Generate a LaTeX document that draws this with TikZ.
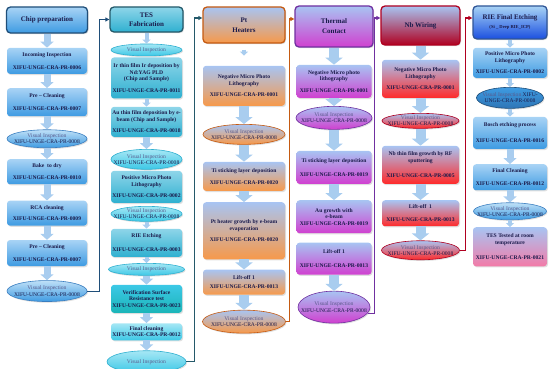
\documentclass[tikz,border=0pt]{standalone}
\usepackage{fontspec}
\setmainfont{Liberation Serif}
\usepackage{tikz}
\usetikzlibrary{arrows.meta, positioning, shapes.geometric, shadows}
\definecolor{XFnavy}{HTML}{1B1B4B}
\definecolor{XFslate}{HTML}{5A5A8C}
\definecolor{XFarrow}{HTML}{A9CDEF}
\definecolor{XFskyL}{HTML}{BFE0F7}
\definecolor{XFsky}{HTML}{A8D3F5}
\definecolor{XFblue}{HTML}{3E9BE2}
\definecolor{XFblueD}{HTML}{3A7EC0}
\definecolor{XFnavyD}{HTML}{1F4E79}
\definecolor{XFtealL}{HTML}{8ED5E9}
\definecolor{XFteal}{HTML}{2FB0D0}
\definecolor{XFtealD}{HTML}{24596A}
\definecolor{XFcyanL}{HTML}{A6E7F5}
\definecolor{XFcyan}{HTML}{3CC8E6}
\definecolor{XFturq}{HTML}{1BB5B8}
\definecolor{XFpale}{HTML}{A8C4F2}
\definecolor{XForange}{HTML}{F7994A}
\definecolor{XForangeD}{HTML}{C55A11}
\definecolor{XFmagenta}{HTML}{D040D0}
\definecolor{XFpurple}{HTML}{7030A0}
\definecolor{XFred}{HTML}{FF2A2A}
\definecolor{XFredD}{HTML}{B00020}
\definecolor{XFroyal}{HTML}{1A4FE0}
\definecolor{XFroyalD}{HTML}{2F5597}
\definecolor{XFmid}{HTML}{2E75B6}
\definecolor{XFpink}{HTML}{F27BA8}
\newcommand{\vinsp}{\textcolor{XFslate}{Visual Inspection}}
\tikzset{
  hdbox/.style={
    rectangle, rounded corners=4pt, line width=1.3pt, align=center,
    inner sep=1pt, text=XFnavy, font=\fontsize{7}{9}\selectfont\bfseries,
    drop shadow={opacity=0.3, shadow xshift=1pt, shadow yshift=-1.2pt}},
  stbox/.style={
    rectangle, rounded corners=3pt, align=center, inner sep=1pt,
    text=XFnavy, font=\fontsize{5.6}{6.6}\selectfont\bfseries,
    drop shadow={opacity=0.25, shadow xshift=1pt, shadow yshift=-1.2pt}},
  viell/.style={
    ellipse, align=center, inner xsep=-12pt, inner ysep=-2pt, line width=0.6pt,
    text=XFnavy, font=\fontsize{5.6}{6.3}\selectfont,
    drop shadow={opacity=0.25, shadow xshift=1pt, shadow yshift=-1.2pt}},
  chipbox/.style={stbox, minimum width=80pt, top color=XFsky, bottom color=XFblue},
  chipell/.style={viell, minimum width=80pt, draw=XFblueD, top color=XFskyL, bottom color=XFblue},
  tesbox/.style={stbox, minimum width=71pt, top color=XFtealL, bottom color=XFteal},
  tesell/.style={viell, minimum width=71pt, draw=XFteal, top color=XFcyanL, bottom color=XFcyan},
  ptbox/.style={stbox, minimum width=82pt, top color=XFpale, bottom color=XForange},
  ptell/.style={viell, minimum width=82pt, draw=XForangeD, top color=XFpale, bottom color=XForange},
  thbox/.style={stbox, minimum width=75pt, top color=XFpale, bottom color=XFmagenta},
  thell/.style={viell, minimum width=76pt, draw=XFpurple, top color=XFpale, bottom color=XFmagenta},
  nbbox/.style={stbox, minimum width=77pt, top color=XFpale, bottom color=XFred},
  nbell/.style={viell, minimum width=77pt, draw=XFredD, top color=XFpale, bottom color=XFred},
  riebox/.style={stbox, minimum width=74pt, top color=XFsky, bottom color=XFblue},
  blkarr/.style={-{Triangle[width=13pt,length=6pt]}, line width=7pt, draw=XFarrow},
  wdarr/.style={-{Triangle[width=17pt,length=7pt]}, line width=10pt, draw=XFarrow},
  smarr/.style={-{Triangle[width=8pt,length=4pt]}, line width=4pt, draw=XFarrow},
  backln/.style={-{Triangle[length=4pt,width=4pt]}, line width=1.1pt},
}
\begin{document}
\begin{tikzpicture}[x=1pt, y=-1pt, node distance=12pt]
  \useasboundingbox (0,0) rectangle (550,369);
  % Chip preparation
  \node[hdbox, draw=XFnavyD, top color=XFsky, bottom color=XFblue, minimum width=81pt, minimum height=26pt] (h1) at (47,20) {Chip preparation};
  \node[chipbox, below=14pt of h1, minimum height=26pt] (c1) {Incoming Inspection\\[6pt]XIFU-UNGE-CRA-PR-0006};
  \node[chipbox, below=14pt of c1, minimum height=28pt] (c2) {Pre – Cleaning\\[7pt]XIFU-UNGE-CRA-PR-0007};
  \node[chipell, below=13pt of c2, minimum height=18pt] (c3) {\vinsp\\XIFU-UNGE-CRA-PR-0008};
  \node[chipbox, below=11pt of c3, minimum height=25pt] (c4) {Bake \ to dry\\[5pt]XIFU-UNGE-CRA-PR-0010};
  \node[chipbox, below=16pt of c4, minimum height=25pt] (c5) {RCA cleaning\\[5pt]XIFU-UNGE-CRA-PR-0009};
  \node[chipbox, below=14pt of c5, minimum height=26pt] (c6) {Pre – Cleaning\\[7pt]XIFU-UNGE-CRA-PR-0007};
  \node[chipell, below=14pt of c6, minimum height=21pt] (c7) {\vinsp\\XIFU-UNGE-CRA-PR-0008};
  \draw[blkarr](h1)--(c1);\draw[blkarr](c1)--(c2);\draw[blkarr](c2)--(c3);\draw[blkarr](c3)--(c4);
  \draw[blkarr](c4)--(c5);\draw[blkarr](c5)--(c6);\draw[blkarr](c6)--(c7);
  % TES fabrication
  \node[hdbox, draw=XFtealD, top color=XFtealL, bottom color=XFteal, minimum width=73pt, minimum height=25pt] (h2) at (146.5,19.5) {TES\\Fabrication};
  \node[tesell, below=11pt of h2, minimum height=12pt] (t1) {\vinsp};
  \node[tesbox, below=1pt of t1, minimum height=41pt] (t2) {Ir thin film Ir deposition by\\Nd:YAG PLD\\(Chip and Sample)\\[5pt]XIFU-UNGE-CRA-PR-0011};
  \node[tesbox, below=8pt of t2, minimum height=30pt] (t3) {Au thin film deposition by e-\\beam (Chip and Sample)\\[5pt]XIFU-UNGE-CRA-PR-0018};
  \node[tesell, below=12pt of t3, minimum height=20pt] (t4) {\vinsp\\XIFU-UNGE-CRA-PR-0008};
  \node[tesbox, below=1pt of t4, minimum height=32pt] (t5) {Positive Micro Photo\\Lithography\\[5pt]XIFU-UNGE-CRA-PR-0002};
  \node[tesell, below=3pt of t5, minimum height=15pt] (t6) {\vinsp\\XIFU-UNGE-CRA-PR-0008};
  \node[tesbox, below=7pt of t6, minimum height=28pt] (t7) {RIE Etching\\[7pt]XIFU-UNGE-CRA-PR-0003};
  \node[tesell, below=6pt of t7, minimum height=12pt, minimum width=76pt] (t8) {\vinsp};
  \node[tesbox, below=9pt of t8, minimum height=28pt, top color=XFcyan, bottom color=XFturq] (t9) {Verification Surface\\Resistance test\\XIFU-UNGE-CRA-PR-0023};
  \node[tesbox, below=10pt of t9, minimum height=17pt, top color=XFcyanL, bottom color=XFcyan] (t10) {Final cleaning\\XIFU-UNGE-CRA-PR-0012};
  \node[tesell, below=10pt of t10, minimum height=22pt, minimum width=79pt] (t11) {\vinsp};
  \draw[smarr](h2)--(t1);\draw[smarr](t2)--(t3);\draw[blkarr](t3)--(t4);\draw[smarr](t6)--(t7);
  \draw[smarr](t7)--(t8);\draw[blkarr](t8)--(t9);\draw[blkarr](t9)--(t10);\draw[blkarr](t10)--(t11);
  % Pt heaters
  \node[hdbox, draw=XForangeD, top color=XFpale, bottom color=XForange, minimum width=82pt, minimum height=36pt] (h3) at (244,25) {Pt\\[1pt]Heaters};
  \node[ptbox, below=22pt of h3, minimum height=40pt] (p1) {Negative Micro Photo\\Lithography\\[5pt]XIFU-UNGE-CRA-PR-0001};
  \node[ptell, below=18pt of p1, minimum height=20pt] (p2) {\vinsp\\XIFU-UNGE-CRA-PR-0008};
  \node[ptbox, below=17pt of p2, minimum height=29pt] (p3) {Ti sticking layer deposition\\[5pt]XIFU-UNGE-CRA-PR-0020};
  \node[ptbox, below=11pt of p3, minimum height=57pt] (p4) {Pt heater growth by e-beam\\evaporation\\[5pt]XIFU-UNGE-CRA-PR-0020};
  \node[ptbox, below=10pt of p4, minimum height=25pt] (p5) {Lift-off 1\\[2pt]XIFU-UNGE-CRA-PR-0013};
  \node[ptell, below=15pt of p5, minimum height=23pt, minimum width=83pt] (p6) {\vinsp\\XIFU-UNGE-CRA-PR-0008};
  \draw[smarr, shorten <=6pt, shorten >=10pt](h3)--(p1);\draw[wdarr](p1)--(p2);\draw[wdarr](p2)--(p3);
  \draw[wdarr](p3)--(p4);\draw[wdarr](p4)--(p5);\draw[wdarr](p5)--(p6);
  % Thermal contact
  \node[hdbox, draw=XFpurple, top color=XFpale, bottom color=XFmagenta, minimum width=78pt, minimum height=41pt] (h4) at (334,26.5) {Thermal\\[1pt]Contact};
  \node[thbox, below=17pt of h4, minimum height=33pt] (m1) {Negative Micro photo\\lithography\\[5pt]XIFU-UNGE-CRA-PR-0001};
  \node[thell, below=8pt of m1, minimum height=23pt] (m2) {\vinsp\\XIFU-UNGE-CRA-PR-0008};
  \node[thbox, below=21pt of m2, minimum height=33pt] (m3) {Ti sticking layer deposition\\[7pt]XIFU-UNGE-CRA-PR-0019};
  \node[thbox, below=16pt of m3, minimum height=33pt] (m4) {Au growth with\\e-beam\\XIFU-UNGE-CRA-PR-0019};
  \node[thbox, below=9pt of m4, minimum height=32pt] (m5) {Lift-off 1\\[7pt]XIFU-UNGE-CRA-PR-0013};
  \node[thell, below=16pt of m5, minimum height=32pt, minimum width=72pt] (m6) {\vinsp\\XIFU-UNGE-CRA-PR-0008};
  \draw[wdarr](h4)--(m1);\draw[wdarr](m1)--(m2);\draw[wdarr](m2)--(m3);\draw[wdarr](m3)--(m4);\draw[wdarr](m5)--(m6);
  % Nb wiring
  \node[hdbox, draw=XFredD, top color=XFpale, bottom color=XFredD, minimum width=79pt, minimum height=39pt] (h5) at (420.5,25.5) {Nb Wiring};
  \node[nbbox, below=14pt of h5, minimum height=38pt] (n1) {Negative Micro Photo\\Lithography\\[5pt]XIFU-UNGE-CRA-PR-0001};
  \node[nbell, below=15pt of n1, minimum height=15pt] (n2) {\vinsp\\XIFU-UNGE-CRA-PR-0008};
  \node[nbbox, below=17pt of n2, minimum height=38pt] (n3) {Nb thin film growth by RF\\sputtering\\[9pt]XIFU-UNGE-CRA-PR-0005};
  \node[nbbox, below=16pt of n3, minimum height=26pt] (n4) {Lift-off \ 1\\[7pt]XIFU-UNGE-CRA-PR-0013};
  \node[nbell, below=14pt of n4, minimum height=19pt, minimum width=78pt] (n5) {\vinsp\\XIFU-UNGE-CRA-PR-0008};
  \draw[wdarr](h5)--(n1);\draw[wdarr](n1)--(n2);\draw[wdarr](n2)--(n3);\draw[wdarr](n3)--(n4);\draw[wdarr](n4)--(n5);
  % RIE final etching
  \node[hdbox, draw=XFroyalD, top color=XFsky, bottom color=XFroyal, minimum width=74pt, minimum height=33pt] (h6) at (510,22.5) {RIE Final Etching\\{\fontsize{4.6}{5}\selectfont(Si \_ Deep RIE\_ICP)}};
  \node[riebox, below=8pt of h6, minimum height=30pt] (r1) {Positive Micro Photo\\Lithography\\[5pt]XIFU-UNGE-CRA-PR-0002};
  \node[viell, below=9pt of r1, minimum height=21pt, minimum width=67pt, draw=XFnavyD, top color=XFblue, bottom color=XFmid] (r2) {\vinsp{} XIFU-\\UNGE-CRA-PR-0008};
  \node[riebox, below=8pt of r2, minimum height=32pt] (r3) {Bosch etching process\\[9pt]XIFU-UNGE-CRA-PR-0016};
  \node[riebox, below=15pt of r3, minimum height=26pt] (r4) {Final Cleaning\\[7pt]XIFU-UNGE-CRA-PR-0012};
  \node[chipell, below=12pt of r4, minimum height=17pt, minimum width=73pt] (r5) {\vinsp\\XIFU-UNGE-CRA-PR-0008};
  \node[riebox, below=7pt of r5, minimum height=39pt, top color=XFpale, bottom color=XFpink] (r6) {TES Tested at room\\temperature\\[9pt]XIFU-UNGE-CRA-PR-0021};
  \draw[smarr](h6)--(r1);\draw[smarr](r1)--(r2);\draw[smarr](r2)--(r3);\draw[blkarr](r3)--(r4);
  \draw[blkarr](r4)--(r5);\draw[smarr](r5)--(r6);
  % links between stages
  \draw[backln, draw=XFnavyD](c7.east)--++(12,0)|-(h2.west);
  \draw[backln, draw=XFtealD](t11.east)--++(8,0)|-([yshift=7pt]h3.west);
  \draw[backln, draw=XForangeD](p6.east)--++(4,0)|-([yshift=7.5pt]h4.west);
  \draw[backln, draw=XFpurple](m6.-10)--++(6.5,0)|-([yshift=7.5pt]h5.west);
  \draw[backln, draw=XFredD](n5.east)--++(5.5,0)|-([yshift=4.5pt]h6.west);
\end{tikzpicture}
\end{document}
